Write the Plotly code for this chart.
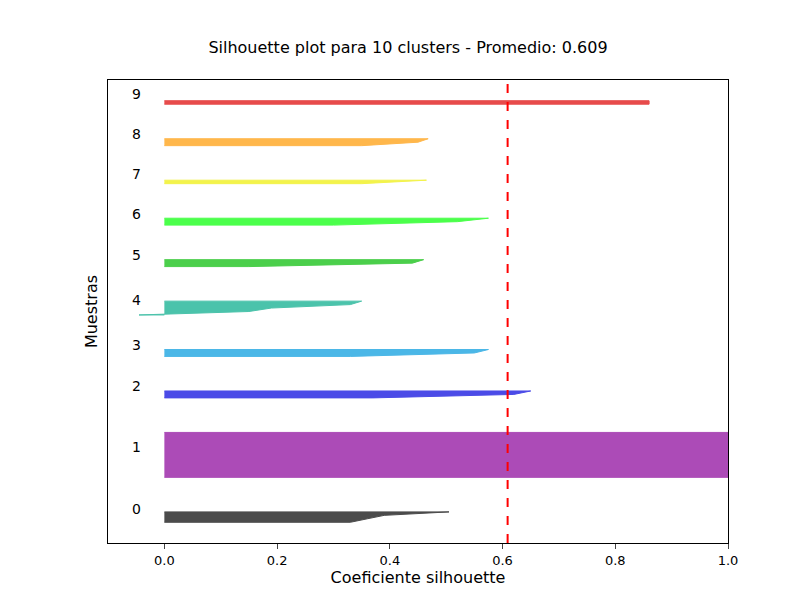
import plotly.graph_objects as go

# sorted silhouette values per cluster
cluster_values = [
    [0.33, 0.36, 0.39, 0.505],
    [1.0] * 14,
    [0.37, 0.62, 0.65],
    [0.33, 0.55, 0.575],
    [-0.045, 0.15, 0.19, 0.33, 0.35],
    [0.15, 0.44, 0.46],
    [0.3, 0.52, 0.575],
    [0.35, 0.465],
    [0.35, 0.45, 0.468],
    [0.86, 0.86],
]
cluster_colors = ["#000000", "#8a0099", "#0000dd", "#0099dd", "#00aa88",
                  "#00bb00", "#00ff00", "#eeee00", "#ff9900", "#dd0000"]
average_score = 0.609
gap = 10

fig = go.Figure()
y_lower = 0
for i, vals in enumerate(cluster_values):
    ys = [y_lower + k for k in range(len(vals))]
    y_upper = ys[-1]
    fig.add_trace(go.Scatter(
        x=[0] + vals + [0], y=[y_lower] + ys + [y_upper],
        fill="toself", mode="lines", fillcolor=cluster_colors[i],
        line=dict(color=cluster_colors[i], width=1),
        opacity=0.7, showlegend=False, hoverinfo="skip"))
    fig.add_annotation(x=-0.05, y=(y_lower + y_upper) / 2, text=str(i),
                       showarrow=False, font=dict(size=14, color="black"),
                       yshift=8)
    y_lower = y_upper + gap
y_top = y_lower - gap

fig.add_shape(type="line", x0=average_score, x1=average_score, y0=0, y1=1,
              yref="paper", line=dict(color="red", width=2, dash="dash"))

fig.update_layout(
    width=800, height=600, plot_bgcolor="white", paper_bgcolor="white",
    margin=dict(l=100, r=80, t=72, b=65),
    font=dict(family="DejaVu Sans", size=13, color="black"),
    title=dict(text="Silhouette plot para 10 clusters - Promedio: 0.609",
               x=0.5, xanchor="center", y=0.925, yanchor="bottom",
               font=dict(size=16)),
)
fig.update_xaxes(range=[-0.1, 1.0], tickvals=[0, 0.2, 0.4, 0.6, 0.8, 1.0],
                 ticktext=["0.0", "0.2", "0.4", "0.6", "0.8", "1.0"],
                 showgrid=False, zeroline=False, showline=True, mirror=True,
                 linecolor="black", ticks="outside",
                 title=dict(text="Coeficiente silhouette", standoff=5))
fig.update_yaxes(range=[-6, y_top + 6], showticklabels=False, showgrid=False,
                 zeroline=False, showline=True, mirror=True, linecolor="black",
                 title=dict(text="Muestras", standoff=5))

fig.write_html("out.html")
